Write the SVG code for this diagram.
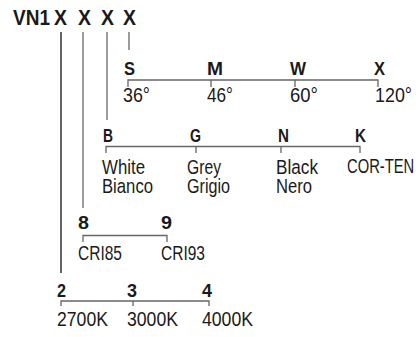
<svg xmlns="http://www.w3.org/2000/svg" width="419" height="337" viewBox="0 0 419 337">
<style>
text{font-family:"Liberation Sans",Arial,sans-serif;fill:#1a1a1a;font-size:20.5px}
.t{font-size:22px;font-weight:bold}
.b{font-weight:bold;font-size:18.5px}
.c{stroke:#666;stroke-width:1.3;fill:none}
.k{stroke:#111;stroke-width:1.3;fill:none}
</style>
<rect width="419" height="337" fill="#fff"/>
<g id="connectors">
<line class="k" x1="61" y1="32" x2="61" y2="273"/>
<line class="c" x1="83" y1="32" x2="83" y2="208"/>
<line class="c" x1="107" y1="32" x2="107" y2="120"/>
<line class="c" x1="129" y1="32" x2="129" y2="50"/>
<path class="c" d="M128,87V80H378V87M211,80V87M295,80V87"/>
<path class="c" d="M106,153V146.5H360V153M196,146.5V153M281,146.5V153"/>
<path class="c" d="M83,242V235.5H167V242"/>
<path class="c" d="M61,306V301H209V306M133,301V306"/>
</g>
<g id="title">
<text class="t" x="13" y="25" textLength="37" lengthAdjust="spacingAndGlyphs">VN1</text>
<text class="t" x="54" y="25" textLength="13" lengthAdjust="spacingAndGlyphs">X</text>
<text class="t" x="78" y="25" textLength="13" lengthAdjust="spacingAndGlyphs">X</text>
<text class="t" x="101" y="25" textLength="13" lengthAdjust="spacingAndGlyphs">X</text>
<text class="t" x="123" y="25" textLength="13" lengthAdjust="spacingAndGlyphs">X</text>
</g>
<g id="angle">
<g id="opt-S"><text class="b" x="124" y="74.5" textLength="11" lengthAdjust="spacingAndGlyphs">S</text><text x="123" y="102" textLength="27" lengthAdjust="spacingAndGlyphs">36°</text></g>
<g id="opt-M"><text class="b" x="207" y="74.5" textLength="16" lengthAdjust="spacingAndGlyphs">M</text><text x="207" y="102" textLength="26" lengthAdjust="spacingAndGlyphs">46°</text></g>
<g id="opt-W"><text class="b" x="290" y="74.5" textLength="16" lengthAdjust="spacingAndGlyphs">W</text><text x="290" y="102" textLength="28" lengthAdjust="spacingAndGlyphs">60°</text></g>
<g id="opt-X"><text class="b" x="374" y="74.5" textLength="11" lengthAdjust="spacingAndGlyphs">X</text><text x="375" y="102" textLength="37" lengthAdjust="spacingAndGlyphs">120°</text></g>
</g>
<g id="colour">
<g id="opt-B"><text class="b" x="103" y="141.5" textLength="10" lengthAdjust="spacingAndGlyphs">B</text><text x="102" y="173.5" textLength="43" lengthAdjust="spacingAndGlyphs">White</text><text x="102" y="192.5" textLength="51" lengthAdjust="spacingAndGlyphs">Bianco</text></g>
<g id="opt-G"><text class="b" x="190" y="141.5" textLength="11" lengthAdjust="spacingAndGlyphs">G</text><text x="187" y="173.5" textLength="34" lengthAdjust="spacingAndGlyphs">Grey</text><text x="187" y="192.5" textLength="43" lengthAdjust="spacingAndGlyphs">Grigio</text></g>
<g id="opt-N"><text class="b" x="278" y="141.5" textLength="11" lengthAdjust="spacingAndGlyphs">N</text><text x="276" y="173.5" textLength="42" lengthAdjust="spacingAndGlyphs">Black</text><text x="276" y="192.5" textLength="36" lengthAdjust="spacingAndGlyphs">Nero</text></g>
<g id="opt-K"><text class="b" x="355" y="141.5" textLength="11" lengthAdjust="spacingAndGlyphs">K</text><text transform="translate(347,172.5) scale(0.72,1)" x="0" y="0">COR-TEN</text></g>
</g>
<g id="cri">
<g id="opt-8"><text class="b" x="78" y="229" textLength="11" lengthAdjust="spacingAndGlyphs">8</text><text x="78" y="259.5" textLength="44" lengthAdjust="spacingAndGlyphs">CRI85</text></g>
<g id="opt-9"><text class="b" x="161" y="229" textLength="11" lengthAdjust="spacingAndGlyphs">9</text><text x="161" y="259.5" textLength="44" lengthAdjust="spacingAndGlyphs">CRI93</text></g>
</g>
<g id="cct">
<g id="opt-2"><text class="b" x="57" y="296.5" textLength="9" lengthAdjust="spacingAndGlyphs">2</text><text x="57" y="326" textLength="51" lengthAdjust="spacingAndGlyphs">2700K</text></g>
<g id="opt-3"><text class="b" x="127" y="296.5" textLength="10" lengthAdjust="spacingAndGlyphs">3</text><text x="127" y="326" textLength="51" lengthAdjust="spacingAndGlyphs">3000K</text></g>
<g id="opt-4"><text class="b" x="202" y="296.5" textLength="10" lengthAdjust="spacingAndGlyphs">4</text><text x="202" y="326" textLength="51" lengthAdjust="spacingAndGlyphs">4000K</text></g>
</g>
</svg>
